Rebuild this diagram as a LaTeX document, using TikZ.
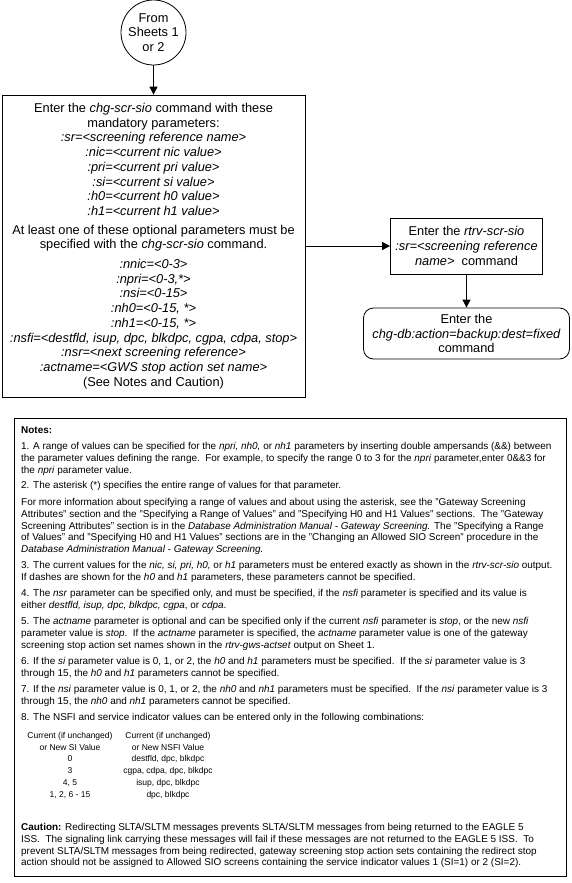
\documentclass[tikz,border=0pt]{standalone}
\usepackage{fontspec}
\setmainfont{Liberation Sans}
\usetikzlibrary{positioning,arrows.meta}

\begin{document}
\begin{tikzpicture}[x=1pt, y=1pt,
 flowbox/.style={draw=black, line width=0.8pt, align=center,
          inner sep=2pt, font=\fontsize{12.8}{14.7}\selectfont},
 sheetconn/.style={circle, draw=black, line width=0.8pt, minimum size=65pt,
          inner sep=0pt, align=center, font=\fontsize{12.8}{14.7}\selectfont},
 arrow/.style={-{Triangle[length=8pt,width=8pt]}, draw=black,
         line width=0.8pt},
 notetext/.style={anchor=north west, align=left, inner sep=0pt,
          font=\fontsize{9.95}{11.8}\selectfont},
 tablecol/.style={anchor=north, align=center, inner sep=0pt,
          font=\fontsize{8.5}{11.8}\selectfont}
]
\useasboundingbox (0,0) rectangle (571,-883);
% Connector from the earlier sheets and the chg-scr-sio step
\node[sheetconn] (fromsheets) at (153.5,-32.5) {From\\Sheets 1\\or 2};
\node[flowbox, minimum width=303pt, minimum height=302pt] (chgscr) at (153.5,-246)
 {Enter the \textit{chg-scr-sio} command with these\\
  mandatory parameters:\\
  \textit{:sr=<screening reference name>}\\
  \textit{:nic=<current nic value>}\\
  \textit{:pri=<current pri value>}\\
  \textit{:si=<current si value>}\\
  \textit{:h0=<current h0 value>}\\
  \textit{:h1=<current h1 value>}\\[4pt]
  At least one of these optional parameters must be\\
  specified with the \textit{chg-scr-sio} command.\\[5pt]
  \textit{:nnic=<0-3>}\\
  \textit{:npri=<0-3,*>}\\
  \textit{:nsi=<0-15>}\\
  \textit{:nh0=<0-15, *>}\\
  \textit{:nh1=<0-15, *>}\\
  \textit{:nsfi=<destfld, isup, dpc, blkdpc, cgpa, cdpa, stop>}\\
  \textit{:nsr=<next screening reference>}\\
  \textit{:actname=<GWS stop action set name>}\\
  (See Notes and Caution)};
% Verify and back up
\node[flowbox, minimum width=152pt, minimum height=56pt] (rtrvscr) at (466.5,-246)
 {Enter the \textit{rtrv-scr-sio}\\\textit{:sr=<screening reference}\\\textit{name>}\ \ command};
\node[flowbox, rounded corners=10pt, minimum width=206pt, minimum height=51pt] (chgdb) at (466.5,-333.5)
 {Enter the\\\textit{chg-db:action=backup:dest=fixed}\\command};
\draw[arrow] (fromsheets) -- (chgscr);
\draw[arrow] (chgscr) -- (rtrvscr);
\draw[arrow] (rtrvscr) -- (chgdb);
% Notes and caution box
\node[draw=black, line width=0.8pt, minimum width=552pt, minimum height=458pt, inner sep=0pt] (notes) at (290,-647) {};
\node[notetext] (notestitle) at (21,-426) {\textbf{Notes:}};
\node[notetext] (note1) at (21,-442)
 {1. A range of values can be specified for the \textit{npri, nh0,} or \textit{nh1} parameters by inserting double ampersands (\&\&) between\\
  the parameter values defining the range.\ \ For example, to specify the range 0 to 3 for the \textit{npri} parameter,enter 0\&\&3 for\\
  the \textit{npri} parameter value.};
\node[notetext] (note2) at (21,-481)
 {2. The asterisk (*) specifies the entire range of values for that parameter.};
\node[notetext] (moreinfo) at (21,-498)
 {For more information about specifying a range of values and about using the asterisk, see the "Gateway Screening\\
  Attributes" section and the "Specifying a Range of Values" and "Specifying H0 and H1 Values" sections.\ \ The "Gateway\\
  Screening Attributes" section is in the \textit{Database Administration Manual - Gateway Screening.} The "Specifying a Range\\
  of Values" and "Specifying H0 and H1 Values" sections are in the "Changing an Allowed SIO Screen" procedure in the\\
  \textit{Database Administration Manual - Gateway Screening.}};
\node[notetext] (note3) at (21,-561)
 {3. The current values for the \textit{nic, si, pri, h0,} or \textit{h1} parameters must be entered exactly as shown in the \textit{rtrv-scr-sio} output.\\
  If dashes are shown for the \textit{h0} and \textit{h1} parameters, these parameters cannot be specified.};
\node[notetext] (note4) at (21,-589)
 {4. The \textit{nsr} parameter can be specified only, and must be specified, if the \textit{nsfi} parameter is specified and its value is\\
  either \textit{destfld, isup, dpc, blkdpc, cgpa}, or \textit{cdpa}.};
\node[notetext] (note5) at (21,-617)
 {5. The \textit{actname} parameter is optional and can be specified only if the current \textit{nsfi} parameter is \textit{stop}, or the new \textit{nsfi}\\
  parameter value is \textit{stop}.\ \ If the \textit{actname} parameter is specified, the \textit{actname} parameter value is one of the gateway\\
  screening stop action set names shown in the \textit{rtrv-gws-actset} output on Sheet 1.};
\node[notetext] (note6) at (21,-657)
 {6. If the \textit{si} parameter value is 0, 1, or 2, the \textit{h0} and \textit{h1} parameters must be specified.\ \ If the \textit{si} parameter value is 3\\
  through 15, the \textit{h0} and \textit{h1} parameters cannot be specified.};
\node[notetext] (note7) at (21,-685)
 {7. If the \textit{nsi} parameter value is 0, 1, or 2, the \textit{nh0} and \textit{nh1} parameters must be specified.\ \ If the \textit{nsi} parameter value is 3\\
  through 15, the \textit{nh0} and \textit{nh1} parameters cannot be specified.};
\node[notetext] (note8) at (21,-713)
 {8. The NSFI and service indicator values can be entered only in the following combinations:};
% SI / NSFI combinations
\node[tablecol] (sicol) at (70,-732)
 {Current (if unchanged)\\or New SI Value\\0\\3\\4, 5\\1, 2, 6 - 15};
\node[tablecol] (nsficol) at (168,-732)
 {Current (if unchanged)\\or New NSFI Value\\destfld, dpc, blkdpc\\cgpa, cdpa, dpc, blkdpc\\isup, dpc, blkdpc\\dpc, blkdpc};
\node[notetext] (caution) at (21,-823)
 {\textbf{Caution:} Redirecting SLTA/SLTM messages prevents SLTA/SLTM messages from being returned to the EAGLE 5\\
  ISS.\ \ The signaling link carrying these messages will fail if these messages are not returned to the EAGLE 5 ISS.\ \ To\\
  prevent SLTA/SLTM messages from being redirected, gateway screening stop action sets containing the redirect stop\\
  action should not be assigned to Allowed SIO screens containing the service indicator values 1 (SI=1) or 2 (SI=2).};
\end{tikzpicture}
\end{document}
